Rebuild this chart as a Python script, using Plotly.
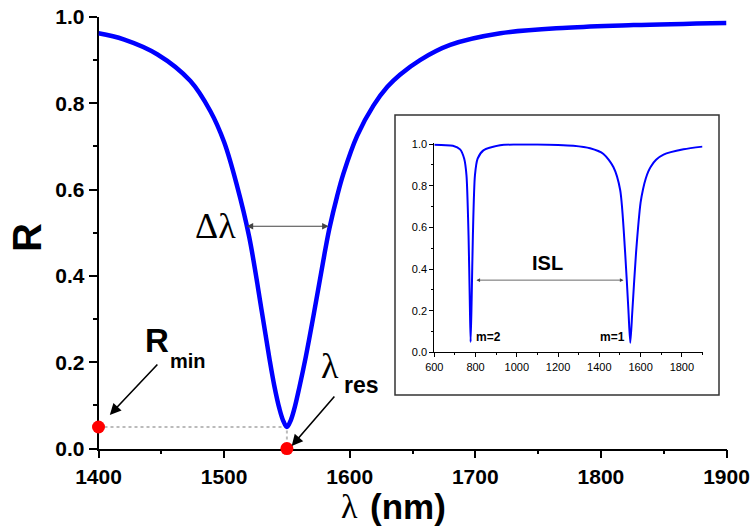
import plotly.graph_objects as go

# ---------------- data ----------------
# main curve: reflectance R vs wavelength (nm)
lam_main = [1400, 1420, 1447, 1473, 1489, 1500, 1510, 1520, 1530, 1536, 1540, 1544,
            1547, 1550, 1553, 1556, 1560, 1565, 1571, 1580, 1584, 1590, 1595, 1606,
            1619, 1630, 1640, 1656, 1680, 1720, 1773, 1826, 1900]
r_main = [0.962, 0.948, 0.913, 0.852, 0.782, 0.710, 0.612, 0.490, 0.318, 0.210, 0.145, 0.093,
          0.065, 0.050, 0.065, 0.093, 0.143, 0.212, 0.305, 0.452, 0.512, 0.585, 0.637, 0.725,
          0.795, 0.838, 0.866, 0.900, 0.935, 0.962, 0.975, 0.981, 0.986]

# inset curve: two resonance orders
lam_inset = [600, 690, 725, 745, 756, 766, 772, 776, 781, 787, 797, 810, 838, 919, 1000,
             1100, 1200, 1274, 1355, 1420, 1468, 1501, 1525, 1541, 1550, 1560, 1578, 1600,
             1612, 1625, 1637, 1650, 1675, 1711, 1808, 1900]
r_inset = [0.997, 0.992, 0.975, 0.930, 0.850, 0.560, 0.250, 0.050, 0.250, 0.560, 0.850, 0.930,
           0.970, 0.995, 0.998, 0.998, 0.996, 0.992, 0.980, 0.953, 0.890, 0.780, 0.480, 0.200,
           0.046, 0.200, 0.480, 0.720, 0.785, 0.835, 0.868, 0.893, 0.925, 0.950, 0.975, 0.988]

rmin = 0.05
lam_res = 1550
fwhm_left, fwhm_right, fwhm_level = 1516.7, 1583.3, 0.515
isl_left, isl_right, isl_level = 797, 1517, 0.347

x_ticks = [1400, 1500, 1600, 1700, 1800, 1900]
y_ticks = [0.0, 0.2, 0.4, 0.6, 0.8, 1.0]
y_ticklabels = ["0.0", "0.2", "0.4", "0.6", "0.8", "1.0"]
xi_ticks = [600, 800, 1000, 1200, 1400, 1600, 1800]
yi_ticks = [0.0, 0.2, 0.4, 0.6, 0.8, 1.0]

# ---------------- layout helpers ----------------
W, H = 753, 530
def px(x):
    return x / W
def py(y):
    return 1 - y / H

SANS = "Liberation Sans, Arial, sans-serif"
SERIF = "Liberation Serif, Times New Roman, serif"

fig = go.Figure()

# dotted guide lines
fig.add_trace(go.Scatter(x=[lam_main[0], lam_res, lam_res], y=[rmin, rmin, 0],
                         mode="lines", line=dict(color="#BBBBBB", width=2, dash="dot"),
                         hoverinfo="skip", showlegend=False, xaxis="x", yaxis="y"))
# main curve
fig.add_trace(go.Scatter(x=lam_main, y=r_main, mode="lines",
                         line=dict(color="#0000FF", width=4.5, shape="spline", smoothing=1.0),
                         showlegend=False, xaxis="x", yaxis="y"))
# red markers
fig.add_trace(go.Scatter(x=[lam_main[0], lam_res], y=[rmin, 0], mode="markers",
                         marker=dict(color="#FF0000", size=13, line=dict(width=0)),
                         cliponaxis=False, showlegend=False, xaxis="x", yaxis="y"))
# inset curve
fig.add_trace(go.Scatter(x=lam_inset, y=r_inset, mode="lines",
                         line=dict(color="#0000FF", width=2, shape="spline", smoothing=0.7),
                         showlegend=False, xaxis="x2", yaxis="y2"))

main_x_dom = [px(98.5), px(726.5)]
main_y_dom = [py(448.6), py(16.9)]
ins_x_dom = [px(434.3), px(702.5)]
ins_y_dom = [py(352.4), py(143.3)]

axis_common = dict(showgrid=False, zeroline=False, showline=True, linecolor="black",
                   ticks="outside", tickcolor="black", layer="below traces")

fig.update_layout(
    width=W, height=H,
    margin=dict(l=0, r=0, t=0, b=0),
    paper_bgcolor="white", plot_bgcolor="rgba(0,0,0,0)",
    xaxis=dict(domain=main_x_dom, range=[1400, 1900], tickmode="array", tickvals=x_ticks,
               ticktext=[str(v) for v in x_ticks], linewidth=1.5, tickwidth=1.5, ticklen=8,
               tickfont=dict(family=SANS, size=21, color="black", weight="bold"),
               minor=dict(tick0=1400, dtick=50, ticklen=4, tickwidth=1.5, ticks="outside",
                          tickcolor="black"),
               anchor="y", automargin=False, **axis_common),
    yaxis=dict(domain=main_y_dom, range=[0, 1.0], tickmode="array", tickvals=y_ticks,
               ticktext=y_ticklabels, linewidth=1.5, tickwidth=1.5, ticklen=8,
               tickfont=dict(family=SANS, size=21, color="black", weight="bold"),
               minor=dict(tick0=0, dtick=0.1, ticklen=4, tickwidth=1.5, ticks="outside",
                          tickcolor="black"),
               anchor="x", automargin=False, **axis_common),
    xaxis2=dict(domain=ins_x_dom, range=[600, 1900], tickmode="array", tickvals=xi_ticks,
                ticktext=[str(v) for v in xi_ticks], linewidth=1, tickwidth=1, ticklen=4,
                tickfont=dict(family=SANS, size=11, color="black"),
                minor=dict(tick0=600, dtick=100, ticklen=2, tickwidth=1, ticks="outside",
                           tickcolor="black"),
                anchor="y2", automargin=False, **axis_common),
    yaxis2=dict(domain=ins_y_dom, range=[0, 1.004], tickmode="array", tickvals=yi_ticks,
                ticktext=["0.0", "0.2", "0.4", "0.6", "0.8", "1.0"], linewidth=1, tickwidth=1,
                ticklen=4, tickfont=dict(family=SANS, size=11, color="black"),
                minor=dict(tick0=0, dtick=0.1, ticklen=2, tickwidth=1, ticks="outside",
                           tickcolor="black"),
                anchor="x2", automargin=False, **axis_common),
    shapes=[dict(type="rect", xref="paper", yref="paper", x0=px(395), x1=px(719),
                 y0=py(395), y1=py(115), line=dict(color="#333333", width=1.5),
                 fillcolor="white", layer="below")],
)

ann = []
def text(x, y, s, size, family=SANS, bold=False, angle=0, xanchor="center"):
    ann.append(dict(x=px(x), y=py(y), xref="paper", yref="paper", text=s, showarrow=False,
                    xanchor=xanchor, yanchor="middle", textangle=angle,
                    font=dict(family=family, size=size, color="black",
                              weight="bold" if bold else "normal")))

# axis titles
text(27, 238, "R", 40, bold=True, angle=-90)
text(349, 506, "λ", 34, family=SERIF)
text(408, 506, "(nm)", 35, bold=True)
# labels
text(215, 226, "Δλ", 36, family=SERIF)
text(157, 340, "R", 33, bold=True)
text(188, 361, "min", 20, bold=True)
text(330, 366, "λ", 36, family=SERIF)
text(361, 385, "res", 23, bold=True)
text(547, 263, "ISL", 20, bold=True)
text(488, 337, "m=2", 12, bold=True)
text(612, 337, "m=1", 12, bold=True)

# arrows
ann.append(dict(x=1409, y=0.078, xref="x", yref="y", ax=49, ay=-52, axref="pixel",
                ayref="pixel", text="", showarrow=True, arrowhead=2, arrowsize=1.4,
                arrowwidth=1.6, arrowcolor="black"))
ann.append(dict(x=1553.8, y=0.006, xref="x", yref="y", ax=44, ay=-51, text="",
                showarrow=True, arrowhead=2, arrowsize=1.4, arrowwidth=1.6, arrowcolor="black"))
ann.append(dict(x=fwhm_right, y=fwhm_level, xref="x", yref="y", ax=fwhm_left, ay=fwhm_level,
                axref="x", ayref="y", text="", showarrow=True, arrowhead=2, arrowside="end+start",
                arrowsize=1.1, arrowwidth=1.2, arrowcolor="#444444"))
ann.append(dict(x=isl_right, y=isl_level, xref="x2", yref="y2", ax=isl_left, ay=isl_level,
                axref="x2", ayref="y2", text="", showarrow=True, arrowhead=2,
                arrowside="end+start", arrowsize=0.9, arrowwidth=0.8, arrowcolor="#444444"))

fig.update_layout(annotations=ann)
fig.write_html("out.html", config={"displayModeBar": False},
               post_script="document.body.style.margin='0px';document.body.style.overflow='hidden';")
